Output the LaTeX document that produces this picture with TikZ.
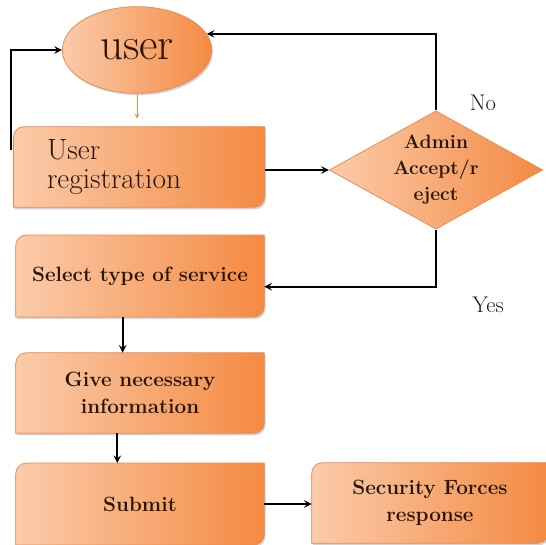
\documentclass[tikz,border=0pt]{standalone}
\usepackage{tikz}
\usetikzlibrary{arrows}
\usetikzlibrary{shapes.geometric}
\usetikzlibrary{backgrounds}
\usetikzlibrary{shadows}

\definecolor{peachl}{RGB}{251,203,170}
\definecolor{peachd}{RGB}{244,138,66}
\definecolor{edgecol}{RGB}{232,140,85}
\definecolor{textcol}{RGB}{40,22,12}

\tikzset{
  flow/.style={->, >=stealth, line width=1.5pt, black},
  box/.style={minimum width=186pt, minimum height=61pt, align=center,
    text=textcol, font=\fontsize{15.5}{20}\selectfont\bfseries},
  boxshape/.style={left color=peachl, right color=peachd, draw=edgecol,
    line width=0.6pt, drop shadow={shadow xshift=1pt, shadow yshift=-1.5pt, opacity=0.35}},
}

\begin{document}
\begin{tikzpicture}[x=0.75pt,y=0.75pt]
\useasboundingbox (0,0) rectangle (546,544);

% start
\node[ellipse, minimum width=112pt, minimum height=65pt, inner sep=0pt,
  left color=peachl, right color=peachd, draw=edgecol, line width=0.6pt,
  drop shadow={shadow xshift=1pt, shadow yshift=-1.5pt, opacity=0.3},
  text=textcol, font=\fontsize{34}{34}\selectfont] (user) at (137,494) {user};

\node[box, align=left, inner xsep=25pt, text width=138pt, minimum height=60pt,
  font=\fontsize{22}{22}\selectfont] (reg) at (139,377) {User\\registration};

\node[diamond, aspect=1.75, minimum width=160pt, minimum height=87pt, inner sep=0pt,
  left color=peachl, right color=peachd, draw=edgecol, line width=0.6pt,
  text=textcol, font=\fontsize{14.5}{19.5}\selectfont\bfseries,
  align=center] (adm) at (436,374) {Admin\\Accept/r\\eject};

\node[box] (sel) at (140,268) {Select type of service};
\node[box, minimum height=60pt] (give) at (140,151) {Give necessary\\information};
\node[box] (sub) at (140,40) {Submit};
\node[box, minimum width=177pt, minimum height=60pt] (sec) at (430,41) {Security Forces\\response};

\node[text=textcol, font=\fontsize{17}{17}\selectfont] (no) at (483,441) {No};
\node[text=textcol, font=\fontsize{17}{17}\selectfont] (yes) at (488,239) {Yes};

% box outlines: top left and bottom right corners are round
\begin{scope}[on background layer]
\foreach \n in {reg,sel,give,sub,sec}{
  \path[boxshape] ([yshift=-8pt]\n.north west) arc[start angle=180,end angle=90,radius=8pt]
    -- (\n.north east) -- ([yshift=8pt]\n.south east)
    arc[start angle=0,end angle=-90,radius=8pt] -- (\n.south west) -- cycle;
}
\end{scope}

% connectors
\draw[->, >=stealth, edgecol, line width=0.7pt, shorten >=6pt] (user.south) -- (reg.north -| user.south);
\draw[flow] ([xshift=-2pt,yshift=13pt]reg.west) |- (user.west);
\draw[flow] (reg.east |- adm.west) -- (adm.west);
\draw[flow] (adm.north) |- (user.13);
\draw[flow] (adm.south) |- ([yshift=-8pt]sel.east);
\draw[flow] ([xshift=-13pt]sel.south) -- ([xshift=-13pt]give.north);
\draw[flow] ([xshift=-17pt]give.south) -- ([xshift=-17pt]sub.north);
\draw[flow] (sub.east) -- (sub.east -| sec.west);

\end{tikzpicture}
\end{document}
